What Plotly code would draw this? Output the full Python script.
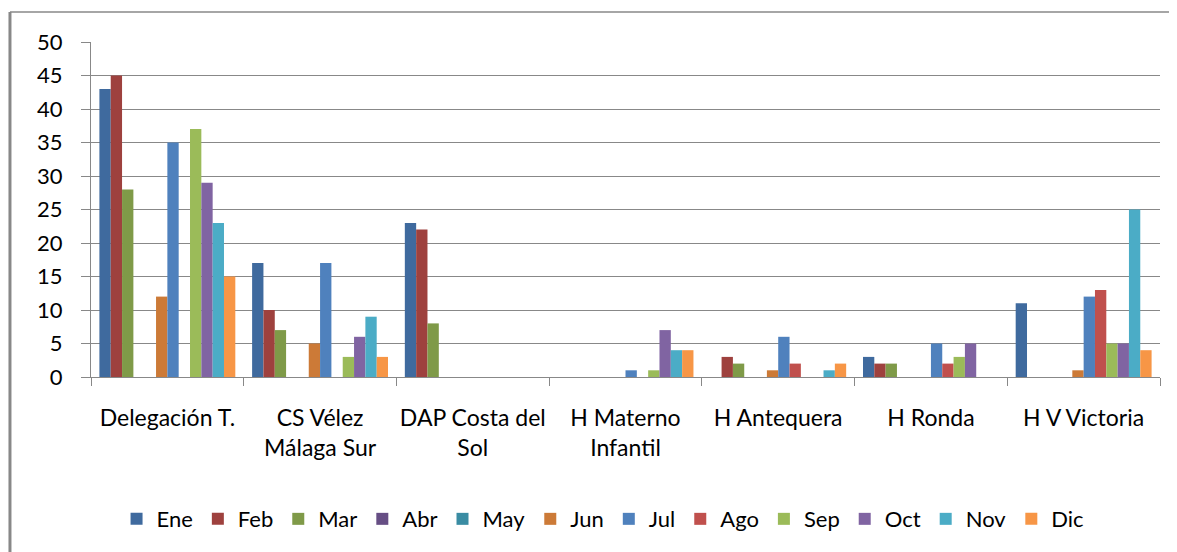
import plotly.graph_objects as go

centros = ['Delegación T.', 'CS Vélez<br>Málaga Sur', 'DAP Costa del<br>Sol',
           'H Materno<br>Infantil', 'H Antequera', 'H Ronda', 'H V Victoria']
meses = ['Ene', 'Feb', 'Mar', 'Abr', 'May', 'Jun',
         'Jul', 'Ago', 'Sep', 'Oct', 'Nov', 'Dic']

ene = [43, 17, 23, 0, 0, 3, 11]
feb = [45, 10, 22, 0, 3, 2, 0]
mar = [28, 7, 8, 0, 2, 2, 0]
abr = [0, 0, 0, 0, 0, 0, 0]
may = [0, 0, 0, 0, 0, 0, 0]
jun = [12, 5, 0, 0, 1, 0, 1]
jul = [35, 17, 0, 1, 6, 5, 12]
ago = [0, 0, 0, 0, 2, 2, 13]
sep = [37, 3, 0, 1, 0, 3, 5]
oct_ = [29, 6, 0, 7, 0, 5, 5]
nov = [23, 9, 0, 4, 1, 0, 25]
dic = [15, 3, 0, 4, 2, 0, 4]

series = [ene, feb, mar, abr, may, jun, jul, ago, sep, oct_, nov, dic]
colores = ['#3F6A9E', '#9E413E', '#7F9A48', '#664E84', '#3A8CA3', '#CC7A37',
           '#4F81BD', '#C0504D', '#9BBB59', '#8064A2', '#4BACC6', '#F79646']

fig = go.Figure()
for mes, vals, col in zip(meses, series, colores):
    fig.add_trace(go.Bar(x=centros, y=vals, name=mes, marker_color=col,
                         marker_line_width=0))

grid = '#888888'
# la página añade 8 px de margen, por eso la figura es algo menor
fig.update_layout(
    width=1169, height=544,
    margin=dict(l=83, r=17, t=34, b=175),
    paper_bgcolor='white', plot_bgcolor='white',
    font=dict(family='Lato, Arial, sans-serif', size=22, color='#000000'),
    barmode='group', bargap=0.11, bargroupgap=0,
    showlegend=True,
    legend=dict(orientation='h', x=0.479, xanchor='center', y=-0.424,
                yanchor='middle', font=dict(size=22), traceorder='normal'),
)
fig.update_yaxes(range=[0, 50], dtick=5, showgrid=True, gridcolor=grid,
                 gridwidth=1, showline=True, linecolor=grid, linewidth=1,
                 ticks='outside', ticklen=9, tickcolor=grid,
                 ticklabelstandoff=14, zeroline=False, automargin=False)
fig.update_xaxes(showgrid=False, showline=True, linecolor=grid, linewidth=1,
                 ticks='outside', ticklen=8, tickcolor=grid,
                 tickson='boundaries', ticklabelstandoff=20, tickangle=0,
                 tickfont=dict(size=23), automargin=False)

# marco del gráfico (borde izquierdo y superior)
fig.add_shape(type='line', xref='paper', yref='paper',
              x0=-0.0758, x1=-0.0758, y0=1.0896, y1=-0.6,
              line=dict(color=grid, width=3))
fig.add_shape(type='line', xref='paper', yref='paper',
              x0=-0.0758, x1=1.03, y0=1.0896, y1=1.0896,
              line=dict(color=grid, width=1.5))

fig.write_html('out.html')
